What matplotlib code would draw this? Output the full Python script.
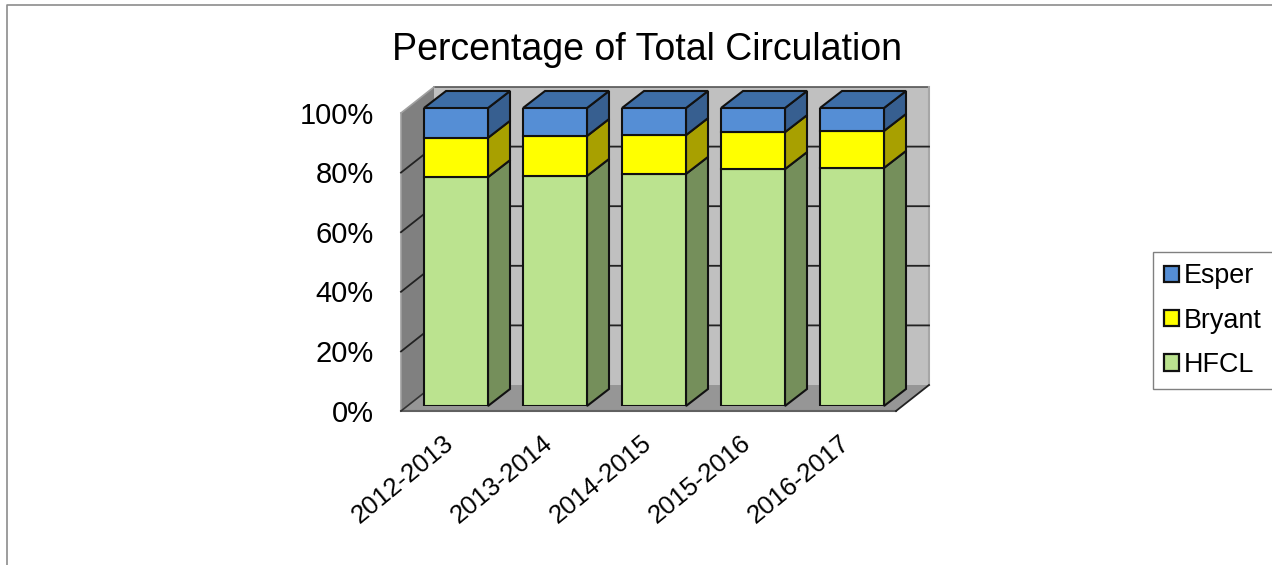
import matplotlib
matplotlib.use("Agg")
import matplotlib.pyplot as plt
from matplotlib.lines import Line2D
from matplotlib.transforms import ScaledTranslation

plt.rcParams['font.family'] = ['Liberation Sans', 'DejaVu Sans']

# --- data (percent of total)
years = ['2012-2013', '2013-2014', '2014-2015', '2015-2016', '2016-2017']
hfcl = [76.8, 77.2, 77.9, 79.5, 79.9]
bryant = [13.2, 13.4, 13.0, 12.4, 12.4]
esper = [10.0, 9.4, 9.1, 8.1, 7.7]
y_ticks = [0, 20, 40, 60, 80, 100]

# --- figure geometry in pixels
W, H = 1272, 565
AX_LEFT, AX_RIGHT = 406.5, 901.5
AX_BOTTOM, AX_TOP = 406, 108
PX_PER_CAT = (AX_RIGHT - AX_LEFT) / len(years)
PX_PER_PCT = (AX_BOTTOM - AX_TOP) / 100

BOX_FRONT = (-5.5, 5)    # px offset of the box front from the bar front plane
BOX_BACK = (27.5, -21)   # same for the back wall
BAR_DEPTH = (22, -17)    # px depth of each bar
BAR_WIDTH = 64 / PX_PER_CAT

fig = plt.figure(figsize=(W / 100, H / 100), dpi=100)
ax = fig.add_axes([AX_LEFT / W, 1 - AX_BOTTOM / H,
                   (AX_RIGHT - AX_LEFT) / W, (AX_BOTTOM - AX_TOP) / H])
ax.set_xlim(-0.5, len(years) - 0.5)
ax.set_ylim(0, 100)
ax.patch.set_visible(False)
for s in ax.spines.values():
    s.set_visible(False)


def shift(x, v, off):
    """Move a (category, percent) point by a pixel offset, for the fake depth."""
    return x + off[0] / PX_PER_CAT, v - off[1] / PX_PER_PCT


def face(points, color, z, edge='#111111', lw=1.5):
    xs = [p[0] for p in points]
    ys = [p[1] for p in points]
    ax.fill(xs, ys, facecolor=color, edgecolor=edge, linewidth=lw,
            joinstyle='miter', clip_on=False, zorder=z)


def edge_line(p, q, color, lw=1.2):
    ax.plot([p[0], q[0]], [p[1], q[1]], color=color, linewidth=lw,
            clip_on=False, zorder=2)


# --- walls and floor
x0, x1 = -0.5, len(years) - 0.5
face([shift(x0, 0, BOX_BACK), shift(x1, 0, BOX_BACK),
      shift(x1, 100, BOX_BACK), shift(x0, 100, BOX_BACK)],
     '#C0C0C0', 1, edge='none', lw=0)
face([shift(x0, 0, BOX_FRONT), shift(x0, 0, BOX_BACK),
      shift(x0, 100, BOX_BACK), shift(x0, 100, BOX_FRONT)],
     '#808080', 1, edge='none', lw=0)
face([shift(x0, 0, BOX_FRONT), shift(x1, 0, BOX_FRONT),
      shift(x1, 0, BOX_BACK), shift(x0, 0, BOX_BACK)],
     '#969696', 1, edge='none', lw=0)

# box outline, mostly soft greys with a dark floor diagonal
edge_line(shift(x0, 100, BOX_BACK), shift(x1, 100, BOX_BACK), '#555555')
edge_line(shift(x1, 100, BOX_BACK), shift(x1, 0, BOX_BACK), '#A6A6A6', 1.5)
edge_line(shift(x0, 100, BOX_FRONT), shift(x0, 100, BOX_BACK), '#A0A0A0')
edge_line(shift(x0, 0, BOX_FRONT), shift(x0, 100, BOX_FRONT), '#A0A0A0')
edge_line(shift(x0, 0, BOX_FRONT), shift(x1, 0, BOX_FRONT), '#606060', 1.5)
edge_line(shift(x1, 0, BOX_FRONT), shift(x1, 0, BOX_BACK), '#222222', 1.3)
edge_line(shift(x0, 0, BOX_FRONT), shift(x0, 0, BOX_BACK), '#333333', 1.2)

# --- gridlines run along the left wall then across the back
for v in y_ticks[1:-1]:
    a = shift(x0, v, BOX_FRONT)
    b = shift(x0, v, BOX_BACK)
    c = shift(x1, v, BOX_BACK)
    ax.plot([a[0], b[0], c[0]], [a[1], b[1], c[1]], color='#222222',
            linewidth=1.3, clip_on=False, zorder=2)

# --- stacked bars: (values, front, side, top colours)
series = [('HFCL', hfcl, '#BBE38F', '#758F5B', '#758F5B'),
          ('Bryant', bryant, '#FFFF00', '#A8A000', '#A8A000'),
          ('Esper', esper, '#558ED5', '#375F90', '#3D6DA6')]

positions = list(range(len(years)))
bottoms = [0.0] * len(years)
handles = {}
for name, vals, front, side, top in series:
    bars = ax.bar(positions, vals, BAR_WIDTH, bottom=bottoms, color=front,
                  edgecolor='#111111', linewidth=1.5, zorder=5, label=name)
    handles[name] = bars
    for i, val in enumerate(vals):
        xr = i + BAR_WIDTH / 2
        xl = i - BAR_WIDTH / 2
        lo, hi = bottoms[i], bottoms[i] + val
        face([(xr, lo), shift(xr, lo, BAR_DEPTH),
              shift(xr, hi, BAR_DEPTH), (xr, hi)], side, 4)
        if name == 'Esper':
            face([(xl, hi), (xr, hi), shift(xr, hi, BAR_DEPTH),
                  shift(xl, hi, BAR_DEPTH)], top, 4)
    bottoms = [b + v for b, v in zip(bottoms, vals)]

# --- tick labels
ax.set_xticks(positions)
ax.set_xticklabels(years, fontsize=18.6, rotation=39.5, ha='right',
                   rotation_mode='anchor')
ax.set_yticks(y_ticks)
ax.set_yticklabels([f'{v}%' for v in y_ticks], fontsize=21)
ax.tick_params(axis='both', length=0)
ax.tick_params(axis='x', pad=18)
ax.tick_params(axis='y', pad=23.5)
nudge_y = ScaledTranslation(0, -4.5 / 100, fig.dpi_scale_trans)
for lab in ax.get_yticklabels():
    lab.set_transform(lab.get_transform() + nudge_y)
nudge_x = ScaledTranslation(-13 / 100, 0, fig.dpi_scale_trans)
for lab in ax.get_xticklabels():
    lab.set_transform(lab.get_transform() + nudge_x)

fig.text(647 / W, 1 - 50 / H, 'Percentage of Total Circulation', fontsize=27,
         ha='center', va='center')

# --- legend, top series first
leg = fig.legend([handles[n][0] for n in ['Esper', 'Bryant', 'HFCL']],
                 ['Esper', 'Bryant', 'HFCL'], loc='upper left',
                 bbox_to_anchor=(1153 / W, 1 - 252 / H), borderaxespad=0,
                 fontsize=19.4, fancybox=False, framealpha=1, edgecolor='#808080',
                 handlelength=0.56, handleheight=0.56, handletextpad=0.16,
                 labelspacing=0.68, borderpad=0.42)
leg.get_frame().set_linewidth(1.0)
for patch in leg.get_patches():
    patch.set_linewidth(1.6)

# --- outer slide frame, only top and left are visible
fig.add_artist(Line2D([6.5 / W, 6.5 / W, 1], [0, 1 - 4.5 / H, 1 - 4.5 / H],
                      transform=fig.transFigure, color='#8C8C8C', linewidth=1.2))

fig.savefig('out.png', dpi=100)
